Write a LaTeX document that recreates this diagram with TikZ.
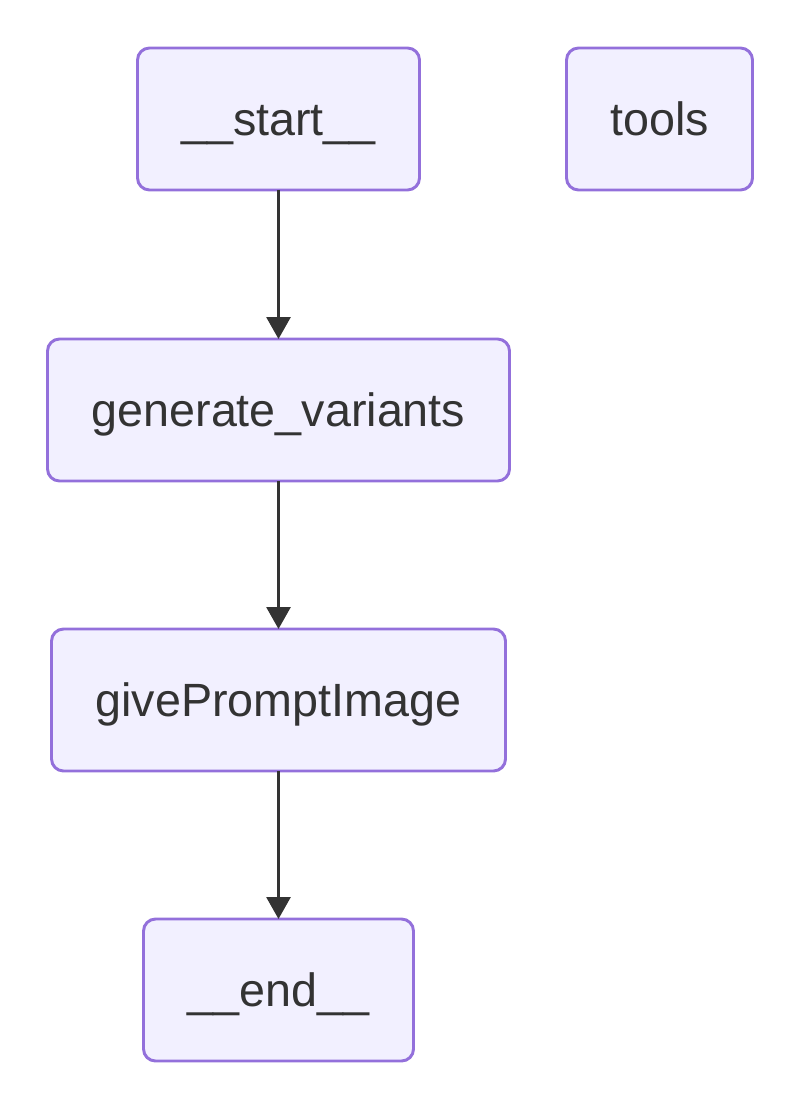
\documentclass[tikz,border=0pt]{standalone}
\usepackage{fontspec}
\setmainfont{Liberation Sans}
\usetikzlibrary{arrows.meta}
\definecolor{nodefill}{HTML}{F2F0FF}
\definecolor{nodestroke}{HTML}{9370DB}
\definecolor{txt}{HTML}{333333}
\tikzset{
  gnode/.style={draw=nodestroke, fill=nodefill, line width=2.2pt, rounded corners=9pt,
    minimum height=106.5pt, inner sep=0pt, outer sep=0pt, text=txt,
    text height=24.5pt, text depth=0pt,
    font=\fontsize{35}{42}\selectfont},
  conn/.style={draw=txt, line width=2.2pt, -{Triangle[length=16.5pt,width=18pt]}}
}
\begin{document}
\begin{tikzpicture}[x=0.75pt,y=-0.75pt]
\useasboundingbox (0,0) rectangle (801,1116);
\node[gnode, minimum width=211.5pt] (start) at (278.5,119) {\_\_start\_\_};
\node[gnode, minimum width=139.5pt] (tools) at (659.5,119) {tools};
\node[gnode, minimum width=346.5pt] (gen) at (278.5,410) {generate\_variants};
\node[gnode, minimum width=340.5pt] (give) at (278.5,700) {givePromptImage};
\node[gnode, minimum width=202.5pt] (end) at (278.5,990) {\_\_end\_\_};
\draw[conn] (start) -- (gen);
\draw[conn] (gen) -- (give);
\draw[conn] (give) -- (end);
\end{tikzpicture}
\end{document}
